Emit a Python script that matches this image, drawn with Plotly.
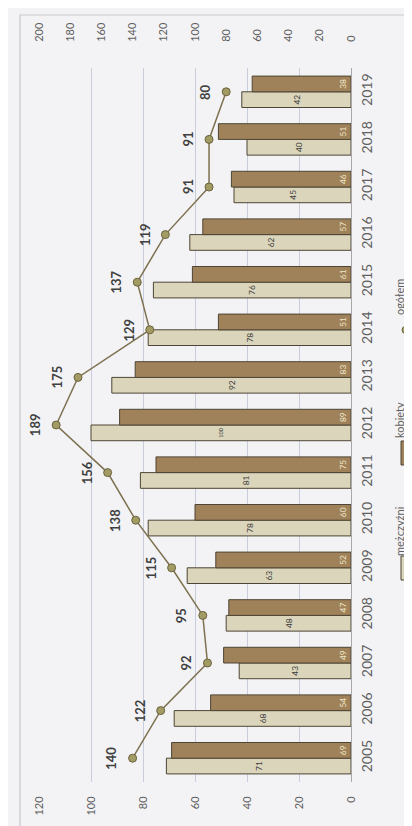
import plotly.graph_objects as go

years = ["2005", "2006", "2007", "2008", "2009", "2010", "2011", "2012",
         "2013", "2014", "2015", "2016", "2017", "2018", "2019"]
men = [71, 68, 43, 48, 63, 78, 81, 100, 92, 78, 76, 62, 45, 40, 42]
women = [69, 54, 49, 47, 52, 60, 75, 89, 83, 51, 61, 57, 46, 51, 38]
total = [140, 122, 92, 95, 115, 138, 156, 189, 175, 129, 137, 119, 91, 91, 80]
left_ticks = [0, 20, 40, 60, 80, 100, 120]
right_ticks = [0, 20, 40, 60, 80, 100, 120, 140, 160, 180, 200]
legend_names = ["mężczyźni", "kobiety", "ogółem"]

FONT = "Lato"
LIGHT = "#dbd5bb"
DARK = "#a0825a"
EDGE = "#4d4535"
LINEC = "#7d7150"
MARK = "#a29c64"
TICKC = "#5f5f5f"
BG = "#f3f3f5"

fig = go.Figure()
fig.add_trace(go.Bar(
    y=years, x=men, orientation="h", name=legend_names[0],
    marker=dict(color=LIGHT, line=dict(color=EDGE, width=1)),
    text=[str(v) for v in men], textposition="inside", insidetextanchor="middle",
    textangle=-90, textfont=dict(family=FONT, size=9, color="#3a3a3a"),
    xaxis="x", yaxis="y"))
fig.add_trace(go.Bar(
    y=years, x=women, orientation="h", name=legend_names[1],
    marker=dict(color=DARK, line=dict(color=EDGE, width=1)),
    text=[str(v) for v in women], textposition="inside", insidetextanchor="start",
    textangle=-90, textfont=dict(family=FONT, size=9, color="#f1e9cc"),
    xaxis="x", yaxis="y"))
fig.add_trace(go.Scatter(
    y=years, x=total, mode="lines+markers", name=legend_names[2],
    line=dict(color=LINEC, width=1.5),
    marker=dict(color=MARK, size=8, line=dict(color="#6c6240", width=1)),
    xaxis="x2", yaxis="y"))

annotations = []
for i, v in enumerate(total):
    annotations.append(dict(
        x=v, y=i, xref="x2", yref="y", text=f"<b>{v}</b>", showarrow=False,
        textangle=-90, xshift=-21, font=dict(family=FONT, size=13, color="#404040")))

# manual rotated legend (paper coords; plot area x 31..343, y 60..774)
W, H, L, B = 312.0, 714.0, 31.0, 774.0
def px(x):
    return (x - L) / W
def py(y):
    return (B - y) / H

shapes = []
shapes.append(dict(type="rect", xref="paper", yref="paper",
                   x0=px(12), x1=px(420), y0=py(819), y1=py(7),
                   line=dict(color="#c9c9cd", width=1.2), fillcolor="rgba(0,0,0,0)",
                   layer="below"))
shapes.append(dict(type="rect", xref="paper", yref="paper",
                   x0=px(393), x1=px(402), y0=py(572), y1=py(548),
                   line=dict(color=EDGE, width=1), fillcolor=LIGHT))
shapes.append(dict(type="rect", xref="paper", yref="paper",
                   x0=px(393), x1=px(402), y0=py(457), y1=py(433),
                   line=dict(color=EDGE, width=1), fillcolor=DARK))
shapes.append(dict(type="line", xref="paper", yref="paper",
                   x0=px(397.5), x1=px(397.5), y0=py(336), y1=py(308),
                   line=dict(color=LINEC, width=1.5)))
shapes.append(dict(type="circle", xref="paper", yref="paper",
                   x0=px(394), x1=px(401), y0=py(325.5), y1=py(318.5),
                   line=dict(color="#6c6240", width=1), fillcolor=MARK))

for name, cy in zip(legend_names, [523, 412, 289]):
    annotations.append(dict(
        x=px(391), y=py(cy), xref="paper", yref="paper", text=name,
        showarrow=False, textangle=-90, xanchor="center", yanchor="middle",
        font=dict(family=FONT, size=11, color=TICKC)))

fig.update_layout(
    width=412, height=826,
    margin=dict(l=31, r=69, t=60, b=52),
    paper_bgcolor=BG, plot_bgcolor=BG,
    barmode="group", bargap=0.34, bargroupgap=0,
    showlegend=False,
    font=dict(family=FONT, color=TICKC),
    xaxis=dict(range=[120, 0], tickvals=left_ticks, tickangle=-90,
               showgrid=True, gridcolor="#c9ccda", gridwidth=1,
               zeroline=False, showline=False,
               ticks="outside", ticklen=9, tickcolor="rgba(0,0,0,0)",
               tickfont=dict(family=FONT, size=11, color=TICKC)),
    xaxis2=dict(range=[200, 0], overlaying="x", side="top", tickvals=right_ticks,
                tickangle=-90, showgrid=False, zeroline=False, showline=False,
                ticks="outside", ticklen=23, tickcolor="rgba(0,0,0,0)",
                tickfont=dict(family=FONT, size=11, color=TICKC)),
    yaxis=dict(type="category", side="right", tickangle=-90,
               range=[-0.5, len(years) - 0.5],
               showline=True, linecolor="#a8a8a8", linewidth=1,
               showgrid=False, ticks="outside", ticklen=3,
               tickcolor="rgba(0,0,0,0)",
               tickfont=dict(family=FONT, size=14, color=TICKC)),
    annotations=annotations,
    shapes=shapes,
)

fig.write_html("out.html")
